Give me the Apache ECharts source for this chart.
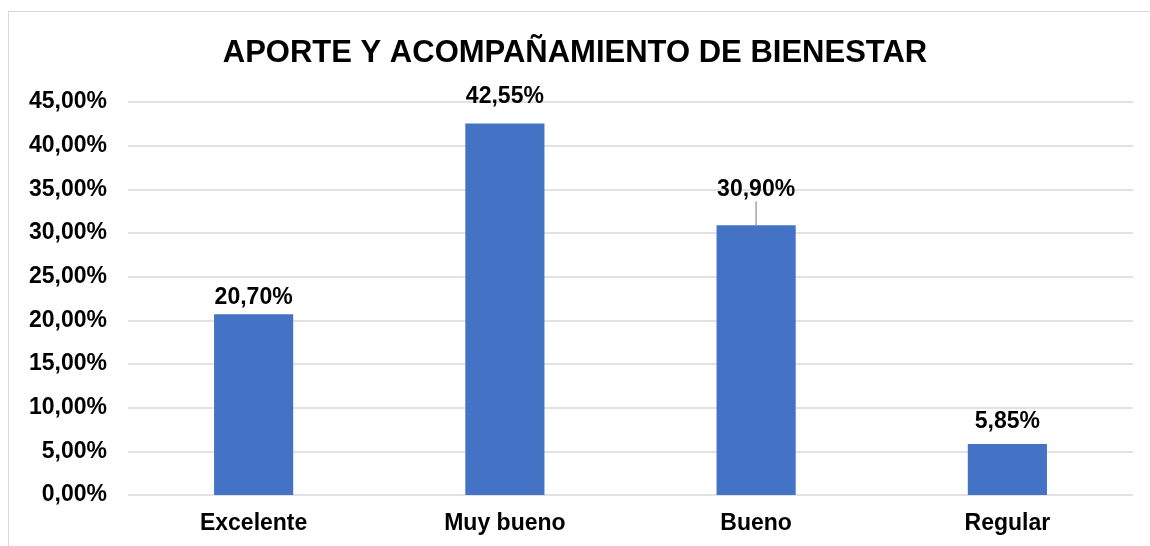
<!DOCTYPE html>
<html><head><meta charset="utf-8">
<script src="https://cdn.jsdelivr.net/npm/echarts@6/dist/echarts.min.js"></script>
<style>html,body{margin:0;padding:0;background:#fff}#c{width:1150px;height:546px}
#frame{position:absolute;left:8px;top:11px;width:1150px;height:560px;border:1.5px solid #d9d9d9;box-sizing:border-box;pointer-events:none}</style>
</head><body><div id="c"></div><div id="frame"></div>
<script>
const categories = ['Excelente', 'Muy bueno', 'Bueno', 'Regular'];
const values = [20.70, 42.55, 30.90, 5.85];
const yTicks = [0, 5, 10, 15, 20, 25, 30, 35, 40, 45];
const titleText = 'APORTE Y ACOMPAÑAMIENTO DE BIENESTAR';
const labelDist = [5, 15, 5, 11];
const labelShift = [0, 0, -19, 0];

const fmt = v => v.toFixed(2).replace('.', ',') + '%';
const FONT = 'Liberation Sans, Arial';
const chart = echarts.init(document.getElementById('c'));
chart.setOption({
  animation: false,
  title: {text: titleText, left: 'center', top: 33,
    textStyle: {fontFamily: FONT, fontWeight: 'bold', fontSize: 31, color: '#000'}},
  grid: {left: 128, right: 17, top: 102, bottom: 51},
  xAxis: {type: 'category', data: categories,
    axisLine: {show: false}, axisTick: {show: false},
    axisLabel: {fontFamily: FONT, fontWeight: 'bold', fontSize: 23, color: '#000', margin: 17}},
  yAxis: {type: 'value', min: yTicks[0], max: yTicks[yTicks.length-1], interval: 5,
    axisLine: {show: false}, axisTick: {show: false},
    splitLine: {lineStyle: {color: '#d9d9d9', width: 1.5}},
    axisLabel: {formatter: v => fmt(v), fontFamily: FONT, fontWeight: 'bold', fontSize: 23, color: '#000', margin: 21}},
  series: [{type: 'bar', barWidth: '31.5%',
    data: values.map((v, i) => ({value: v,
      label: {distance: labelDist[i]},
      labelLine: {show: labelShift[i] !== 0, lineStyle: {color: '#a6a6a6', width: 1.5}}})),
    labelLayout: p => labelShift[p.dataIndex] ? {dy: labelShift[p.dataIndex]} : {},
    itemStyle: {color: '#4472c4'},
    label: {show: true, position: 'top', formatter: p => fmt(p.value),
      fontFamily: FONT, fontWeight: 'bold', fontSize: 23, color: '#000'}}]
});
</script></body></html>
